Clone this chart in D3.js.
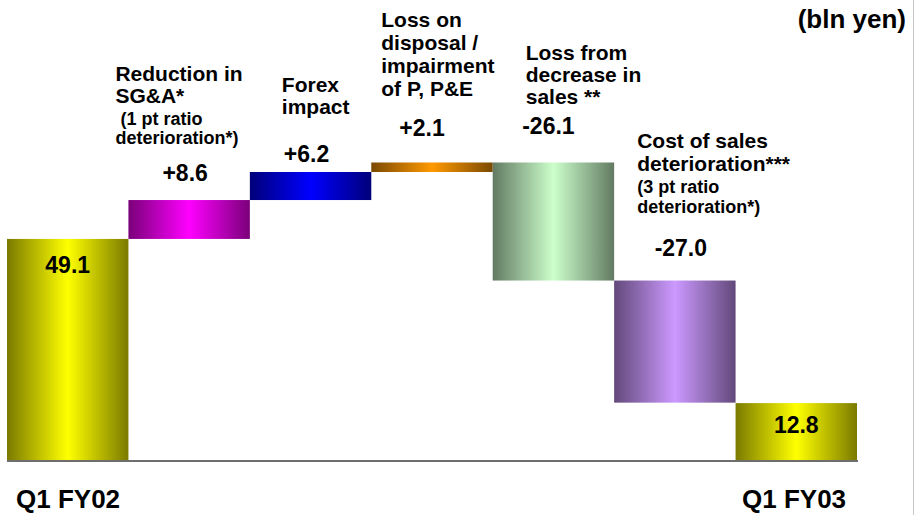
<!DOCTYPE html>
<html>
<head>
<meta charset="utf-8">
<script src="https://cdn.jsdelivr.net/npm/d3@7/dist/d3.min.js"></script>
<style>
  html, body { margin: 0; padding: 0; background: #fff; }
  svg { display: block; }
  text { font-family: "Liberation Sans", Arial, Helvetica, sans-serif; font-weight: bold; fill: #000; }
</style>
</head>
<body>
<svg id="chart" width="915" height="515"></svg>
<script>
// Operating income bridge, Q1 FY02 -> Q1 FY03 (bln yen)
const steps = ["start", "sga", "forex", "disposal", "sales", "cost", "end"];
const stepKinds = ["total", "delta", "delta", "delta", "delta", "delta", "total"];
const stepValues = [49.1, 8.6, 6.2, 2.1, -26.1, -27.0, 12.8];
const axisLabels = ["Q1 FY02", "", "", "", "", "", "Q1 FY03"];
const titleLines = [
  [],
  ["Reduction in", "SG&A*"],
  ["Forex", "impact"],
  ["Loss on", "disposal /", "impairment", "of P, P&E"],
  ["Loss from", "decrease in", "sales **"],
  ["Cost of sales", "deterioration***"],
  []
];
const noteLines = [
  [],
  [" (1 pt ratio", "deterioration*)"],
  [],
  [],
  [],
  ["(3 pt ratio", "deterioration*)"],
  []
];
const unitLabel = "(bln yen)";

// Bar fills: bright centre fading to a darker edge
const barColors = ["#ffff00", "#ff00ff", "#0000ff", "#ff9900", "#ccffcc", "#cc99ff", "#ffff00"];

// Text placement for each step's annotation (offsets from the band's left edge)
const titleLayout = [
  null,
  { dx: -13, y: 81, lead: 22, noteDx: -13, noteY: 125, noteLead: 19 },
  { dx: 32, y: 92, lead: 22 },
  { dx: 10, y: 27, lead: 23 },
  { dx: 33, y: 60, lead: 22 },
  { dx: 23, y: 148, lead: 23, noteDx: 23, noteY: 193, noteLead: 20 },
  null
];
const valueLayout = [
  { dx: 0, gap: -34 },
  { dx: -4, gap: 19 },
  { dx: -4, gap: 10 },
  { dx: -10, gap: 27 },
  { dx: -5, gap: 29 },
  { dx: 6, gap: 25 },
  { dx: 0, gap: -30 }
];

const svg = d3.select("#chart");
const W = 915, H = 515;

// Running totals for the waterfall
let run = 0;
const bars = steps.map((key, i) => {
  let y0, y1;
  if (stepKinds[i] === "total") { y0 = 0; y1 = stepValues[i]; run = stepValues[i]; }
  else { y0 = run; y1 = run + stepValues[i]; run = y1; }
  return { key, i, kind: stepKinds[i], value: stepValues[i], lo: Math.min(y0, y1), hi: Math.max(y0, y1) };
});

const x = d3.scaleBand().domain(steps).range([7, 857]).padding(0);
const y = d3.scaleLinear().domain([0, 66]).range([461, 162.5]);

// Gradients
const defs = svg.append("defs");
bars.forEach(b => {
  const c = d3.color(barColors[b.i]);
  const dark = d3.rgb(c.r * 0.48, c.g * 0.48, c.b * 0.48);
  const g = defs.append("linearGradient").attr("id", "grad-" + b.key)
    .attr("x1", "0%").attr("x2", "100%").attr("y1", "0%").attr("y2", "0%");
  g.append("stop").attr("offset", "0%").attr("stop-color", dark);
  g.append("stop").attr("offset", "50%").attr("stop-color", c);
  g.append("stop").attr("offset", "100%").attr("stop-color", dark);
});

// Right border line
svg.append("line").attr("x1", 913.5).attr("x2", 913.5).attr("y1", 0).attr("y2", H)
  .attr("stroke", "#c8c8c8").attr("stroke-width", 1);

// Bars
svg.append("g").selectAll("rect").data(bars).join("rect")
  .attr("x", d => x(d.key))
  .attr("y", d => y(d.hi))
  .attr("width", x.bandwidth())
  .attr("height", d => y(d.lo) - y(d.hi))
  .attr("fill", d => `url(#grad-${d.key})`);

// Baseline axis
const axis = d3.axisBottom(x).tickSize(0).tickFormat(() => "");
const axisG = svg.append("g").attr("transform", `translate(0,${y(0)})`).call(axis);
axisG.select(".domain").attr("stroke", "#6e6e6e").attr("stroke-width", 2)
  .attr("d", `M${x.range()[0]},0H${x.range()[1] + 1}`);

// Axis end labels
svg.append("text").attr("x", 16).attr("y", 508).attr("font-size", 26).text(axisLabels[0]);
svg.append("text").attr("x", 742).attr("y", 508).attr("font-size", 26).text(axisLabels[6]);

// Unit label
svg.append("text").attr("x", 906).attr("y", 28).attr("text-anchor", "end")
  .attr("font-size", 26).text(unitLabel);

// Value labels (plain hyphen for negatives)
const fmt = (d) => (d.kind === "total" ? d3.format(".1f")(d.value) : d3.format("+.1f")(d.value)).replace("\u2212", "-");
svg.append("g").selectAll("text").data(bars).join("text")
  .attr("x", d => x(d.key) + x.bandwidth() / 2 + valueLayout[d.i].dx)
  .attr("y", d => y(d.hi) - valueLayout[d.i].gap)
  .attr("text-anchor", "middle")
  .attr("font-size", 23)
  .text(d => fmt(d));

// Step titles and notes
bars.forEach(b => {
  const L = titleLayout[b.i];
  if (!L) return;
  const x0 = x(b.key);
  titleLines[b.i].forEach((line, k) => {
    svg.append("text").attr("x", x0 + L.dx).attr("y", L.y + k * L.lead)
      .attr("font-size", 21).text(line);
  });
  noteLines[b.i].forEach((line, k) => {
    svg.append("text").attr("x", x0 + L.noteDx).attr("y", L.noteY + k * L.noteLead)
      .attr("font-size", 18).style("white-space", "pre").text(line);
  });
});
</script>
</body>
</html>
